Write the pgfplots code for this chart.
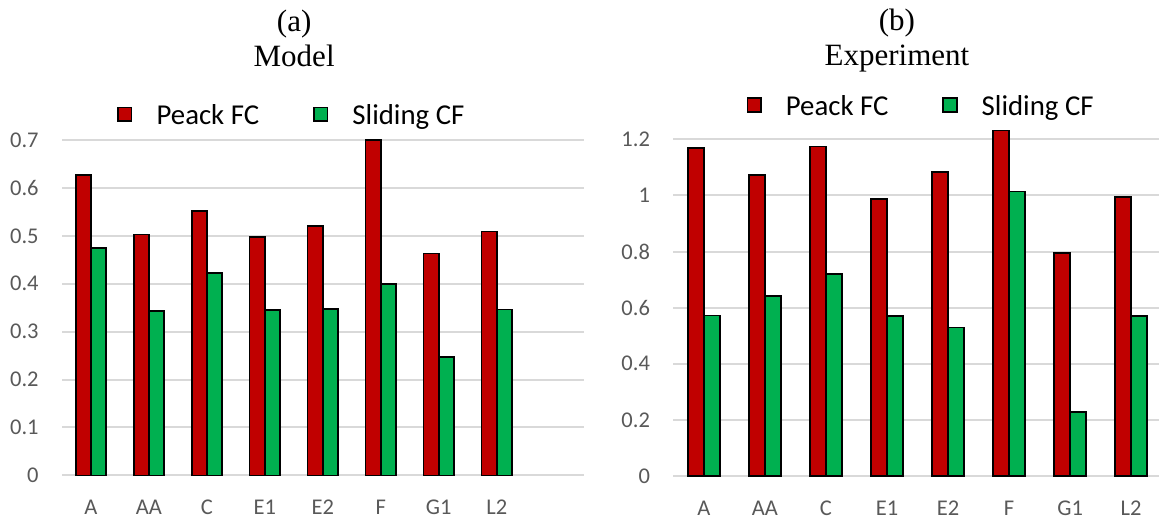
\documentclass[border=0pt]{standalone}
\usepackage{pgfplots}
\pgfplotsset{compat=1.18}
\usepackage{fontspec}
\setmainfont{Carlito}
\newfontfamily\timesf{Liberation Serif}
\definecolor{barred}{HTML}{C00000}
\definecolor{bargreen}{HTML}{00B050}
\definecolor{gridgray}{HTML}{D9D9D9}
\definecolor{ticktext}{HTML}{595959}
\pgfplotsset{
  myaxis/.style={
    scale only axis,
    anchor=south west,
    axis line style={draw=none},
    major tick length=0pt,
    tick style={draw=none},
    ymajorgrids,
    grid style={draw=gridgray, line width=1pt},
    ymin=0,
    xtick={0,1,2,3,4,5,6,7},
    xticklabels={A,AA,C,E1,E2,F,G1,L2},
    ticklabel style={font=\fontsize{11.25}{13}\selectfont, text=ticktext, inner sep=0pt},
    yticklabel style={anchor=east, xshift=-11.5pt},
    xticklabel style={anchor=base, yshift=-19.5pt},
    /pgf/number format/assume math mode=true,
    clip=false,
    legend columns=2,
    legend image code/.code={\draw[##1,draw=black,line width=0.8pt] (0pt,-2.4pt) rectangle (6.75pt,4.35pt); \path[draw=none,fill=none] (0pt,0pt) -- (19.25pt,0pt);},
    legend style={draw=none, fill=none, inner sep=0pt, outer sep=0pt,
      nodes={inner sep=0pt, font=\fontsize{14.4}{16}\selectfont, text=black},
      column sep=0pt,
      /tikz/every even column/.append style={column sep=27pt}},
  },
}
\begin{document}
\begin{tikzpicture}
\useasboundingbox (0pt,0pt) rectangle (579.5pt,262pt);
% (a) Model
\begin{axis}[myaxis,
  at={(31pt,24.35pt)},
  width=260.85pt, height=167.65pt,
  xmin=-0.5, xmax=8.5,
  ymax=0.7,
  ytick={0,0.1,0.2,0.3,0.4,0.5,0.6,0.7},
  legend style={at={(0.106,1.0716)}, anchor=west},
]
\addplot[ybar, bar width=7.6pt, bar shift=-3.8pt, fill=barred, draw=black, line width=0.8pt]
  coordinates {(0,0.627) (1,0.503) (2,0.552) (3,0.498) (4,0.521) (5,0.700) (6,0.463) (7,0.509)};
\addplot[ybar, bar width=7.6pt, bar shift=3.8pt, fill=bargreen, draw=black, line width=0.8pt]
  coordinates {(0,0.475) (1,0.343) (2,0.422) (3,0.345) (4,0.347) (5,0.399) (6,0.247) (7,0.346)};
\legend{Peack FC, Sliding CF}
\node[anchor=base, font=\timesf\fontsize{15.5}{18}\selectfont, inner sep=0pt] at (axis description cs:0.445,1.325) {(a)};
\node[anchor=base, font=\timesf\fontsize{15.5}{18}\selectfont, inner sep=0pt] at (axis description cs:0.445,1.2186) {Model};
\end{axis}
% (b) Experiment
\begin{axis}[myaxis,
  at={(336.65pt,24pt)},
  width=244.2pt, height=168.35pt,
  xmin=-0.5, xmax=7.5,
  ymax=1.2,
  ytick={0,0.2,0.4,0.6,0.8,1,1.2},
  legend style={at={(0.15,1.096)}, anchor=west},
]
\addplot[ybar, bar width=7.95pt, bar shift=-3.97pt, fill=barred, draw=black, line width=0.8pt]
  coordinates {(0,1.168) (1,1.073) (2,1.174) (3,0.987) (4,1.084) (5,1.232) (6,0.794) (7,0.994)};
\addplot[ybar, bar width=7.95pt, bar shift=3.97pt, fill=bargreen, draw=black, line width=0.8pt]
  coordinates {(0,0.572) (1,0.642) (2,0.719) (3,0.571) (4,0.529) (5,1.014) (6,0.229) (7,0.571)};
\legend{Peack FC, Sliding CF}
\node[anchor=base, font=\timesf\fontsize{15.5}{18}\selectfont, inner sep=0pt] at (axis description cs:0.458,1.3217) {(b)};
\node[anchor=base, font=\timesf\fontsize{15.5}{18}\selectfont, inner sep=0pt] at (axis description cs:0.458,1.2186) {Experiment};
\end{axis}
\end{tikzpicture}
\end{document}
